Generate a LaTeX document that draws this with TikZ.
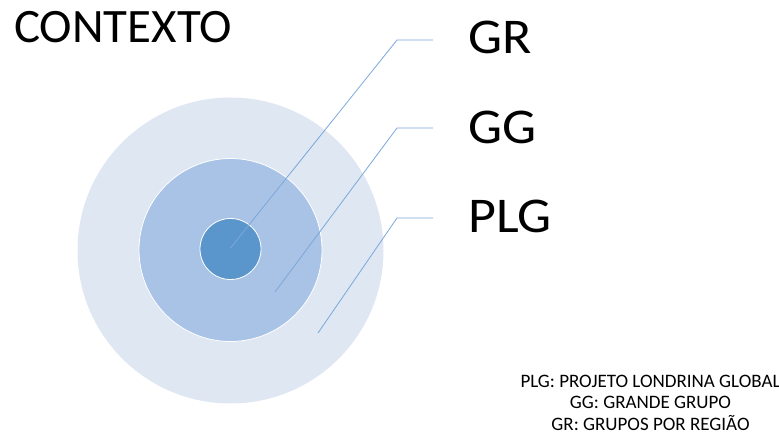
\documentclass[tikz,border=0pt]{standalone}
\usepackage{fontspec}
\setmainfont{Carlito}
\newfontfamily\wideface[FakeStretch=1.08]{Carlito}
\newfontfamily\titleface[FakeStretch=1.02]{Carlito}
\usetikzlibrary{calc}
\definecolor{ringout}{HTML}{DFE7F3}
\definecolor{ringmid}{HTML}{A8C3E5}
\definecolor{ringin}{HTML}{5A96CB}
\definecolor{leader}{HTML}{7BA7DB}
\tikzset{
  ring/.style={circle,inner sep=0pt,draw=white,line width=0.8pt},
  tag/.style={anchor=west,inner sep=0pt,font=\wideface\fontsize{50}{60}\selectfont},
  lead/.style={leader,line width=0.8pt}
}
\begin{document}
\begin{tikzpicture}[x=1pt,y=-1pt]
\useasboundingbox (0,0) rectangle (779,435);
% circles
\node[ring,fill=ringout,draw=none,minimum size=306pt] (plg) at (230.5,250.5) {};
\node[ring,fill=ringmid,minimum size=183pt] (gg) at (230.5,250) {};
\node[ring,fill=ringin,minimum size=61pt] (gr) at (230.5,249) {};
% labels
\node[anchor=west,inner sep=0pt,font=\titleface\fontsize{48}{58}\selectfont] (title) at (14,27.5) {CONTEXTO};
\node[tag] (tgr) at (468,37.5) {GR};
\node[tag] (tgg) at (468,127) {GG};
\node[tag] (tplg) at (468,216) {PLG};
% leader lines
\coordinate (grfoot) at ($(gr.center)+(0,-1)$);
\coordinate (ggfoot) at ($(gg.center)+(44.5,42)$);
\coordinate (plgfoot) at ($(plg.center)+(87.5,82.5)$);
\foreach \c/\y in {gr/40,gg/128,plg/218} {
  \coordinate (\c knee) at (397,\y);
  \coordinate (\c end) at (433,\y);
  \draw[lead] (\c foot) -- (\c knee) -- (\c end);
}
% legend
\node[align=center,inner sep=0pt,font=\fontsize{19}{21.5}\selectfont] (legend) at (650.5,402.5) {PLG: PROJETO LONDRINA GLOBAL\\GG: GRANDE GRUPO\\GR: GRUPOS POR REGIÃO};
\end{tikzpicture}
\end{document}
